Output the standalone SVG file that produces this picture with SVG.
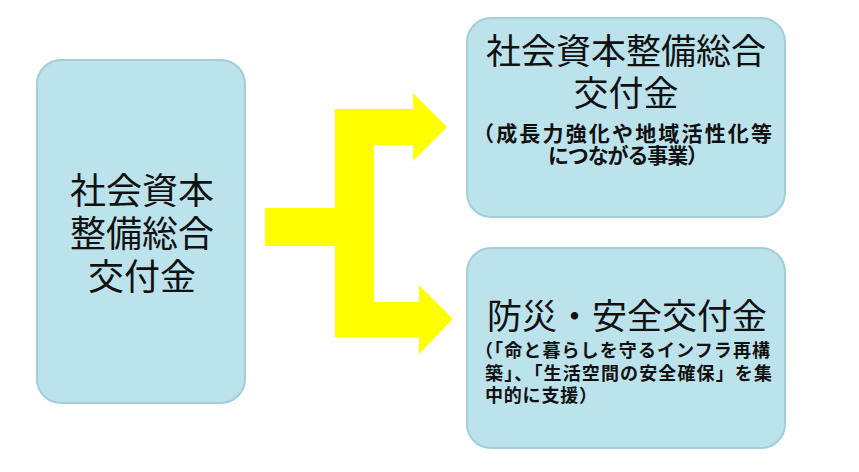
<svg xmlns="http://www.w3.org/2000/svg" width="859" height="472" viewBox="0 0 859 472">
<style>
.box{fill:#bce2eb;stroke:#a3cdd8;stroke-width:2}
.t{font-family:"Noto Sans CJK JP","Noto Sans CJK SC",sans-serif;fill:#111}
.big{font-size:35px}
.sub{font-size:21px;font-weight:bold}
.sub2{font-size:18px;font-weight:bold}
</style>
<rect width="859" height="472" fill="#ffffff"/>
<g id="connectors">
<path d="M265,208 H335 V109 H413 V93 L447,127 L413,161 V145 H374 V302 H419 V285 L453,319 L419,354 V337 H335 V246 H265 Z" fill="#ffff00"/>
</g>
<g id="node-left">
<rect class="box" x="37" y="60" width="208" height="343" rx="24"/>
<text class="t big" text-anchor="middle" x="142" y="204" style="font-size:36px">社会資本</text>
<text class="t big" text-anchor="middle" x="142" y="247" style="font-size:36px">整備総合</text>
<text class="t big" text-anchor="middle" x="142" y="290" style="font-size:36px">交付金</text>
</g>
<g id="node-top">
<rect class="box" x="467" y="18" width="318" height="199" rx="24"/>
<text class="t big" text-anchor="middle" x="626" y="64">社会資本整備総合</text>
<text class="t big" text-anchor="middle" x="626" y="106">交付金</text>
<text class="t sub" x="473" y="141" textLength="299" lengthAdjust="spacing">（成長力強化や地域活性化等</text>
<text class="t sub" x="548" y="163" textLength="160" lengthAdjust="spacing">につながる事業）</text>
</g>
<g id="node-bottom">
<rect class="box" x="467" y="248" width="318" height="200" rx="24"/>
<text class="t big" text-anchor="middle" x="627" y="329">防災・安全交付金</text>
<text class="t sub2" x="475" y="357" textLength="295" lengthAdjust="spacing">（「命と暮らしを守るインフラ再構</text>
<text class="t sub2" x="485" y="380" textLength="287" lengthAdjust="spacing">築」、「生活空間の安全確保」を集</text>
<text class="t sub2" x="485" y="402" textLength="112" lengthAdjust="spacing">中的に支援）</text>
</g>
</svg>
